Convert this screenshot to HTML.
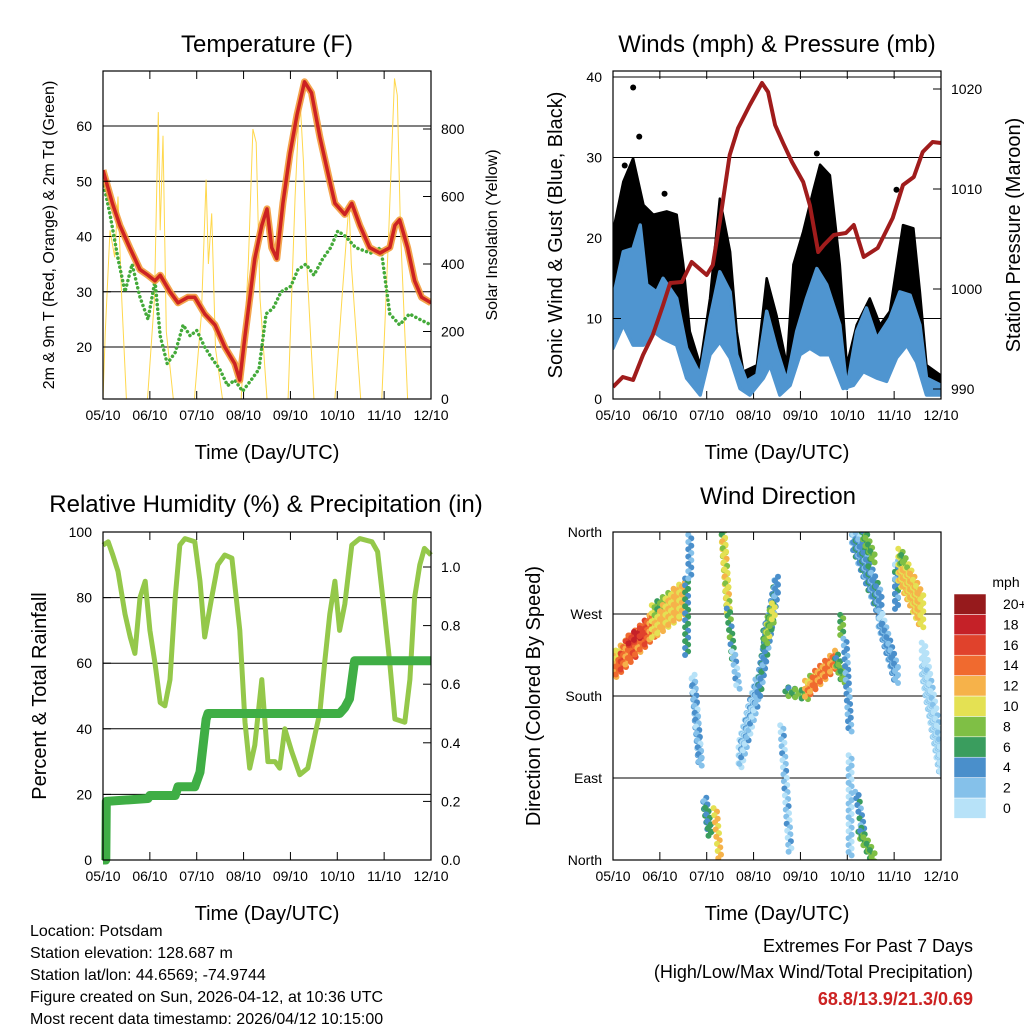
<!DOCTYPE html>
<html><head><meta charset="utf-8"><style>
html,body{margin:0;padding:0;background:#fff;}
svg{display:block;font-family:"Liberation Sans",sans-serif;}
</style></head><body>
<svg id="s" width="1024" height="1024" viewBox="0 0 1024 1024"></svg>
<script>
// ---- Temperature panel data (day index 0..7) ----
const tT=[0,0.2,0.36,0.57,0.79,0.96,1.11,1.22,1.43,1.6,1.81,1.96,2.17,2.39,2.6,2.81,2.92,3.03,3.24,3.39,3.5,3.6,3.71,3.84,3.99,4.14,4.3,4.45,4.63,4.84,4.95,5.16,5.31,5.48,5.69,5.91,6.12,6.23,6.33,6.5,6.65,6.8,7];
const tRed=[52,46,42,38,34,33,32,33,30,28,29,29,26,24,20,17,14,22,36,42,45,38,36,46,55,62,68,66,58,50,46,44,46,42,38,37,38,42,43,38,32,29,28];
const tdT=[0,0.15,0.32,0.47,0.62,0.79,0.96,1.11,1.22,1.37,1.54,1.71,1.86,2.0,2.17,2.32,2.49,2.66,2.81,2.98,3.16,3.33,3.48,3.63,3.8,4.01,4.16,4.33,4.5,4.69,4.86,5.01,5.18,5.39,5.71,5.93,6.12,6.33,6.54,6.76,7];
const tdVal=[50,44,36,30,35,29,25,32,22,17,19,24,22,23,20,18,16,13,14,12,14,16,26,27,30,31,34,35,33,36,38,41,40,38,37,38,26,24,26,25,24];
const solT=[0,0.05,0.15,0.25,0.32,0.4,0.5,0.95,1.1,1.18,1.22,1.28,1.35,1.5,1.95,2.1,2.2,2.25,2.32,2.4,2.55,2.95,3.1,3.2,3.27,3.35,3.5,3.95,4.1,4.2,4.28,4.35,4.5,4.95,5.1,5.25,5.3,5.4,5.5,5.95,6.1,6.22,6.28,6.35,6.5,7];
const solV=[0,200,500,420,600,300,0,0,300,850,500,780,200,0,0,250,650,400,550,150,0,0,400,800,760,300,0,0,600,900,700,400,0,0,300,580,400,200,0,0,500,950,900,500,0,0];
// ---- Wind panel data ----
const gT=[0,0.22,0.43,0.65,0.86,1.15,1.36,1.5,1.64,1.86,2.07,2.28,2.5,2.64,2.78,3.07,3.28,3.49,3.71,3.85,4.06,4.27,4.42,4.63,4.84,4.99,5.2,5.48,5.7,5.91,6.19,6.41,6.55,6.69,6.98,7];
const gMax=[20.8,27.0,29.9,24.1,22.9,23.3,22.9,16.7,8.4,4.2,12.5,24.9,18.3,8.4,3.4,4.2,15.0,10.4,4.2,16.7,20.8,25.8,29.1,27.8,16.7,4.2,9.2,12.5,9.2,10.9,21.6,21.2,13.3,4.2,3.0,2.6];
const sTopT=[0,0.22,0.43,0.58,0.72,0.93,1.07,1.36,1.57,1.86,2.07,2.28,2.5,2.64,2.85,3.07,3.28,3.49,3.71,3.92,4.13,4.35,4.56,4.84,4.99,5.2,5.41,5.63,5.91,6.12,6.34,6.55,6.69,7];
const sMax=[12.5,18.3,18.7,21.6,14.2,13.3,15.0,12.5,6.3,3.0,10.0,15.8,13.3,5.5,2.2,3.0,10.9,6.3,2.2,8.4,12.5,16.2,14.2,9.2,1.3,8.4,11.3,7.5,10.0,13.3,12.9,9.2,2.6,1.7];
const sBotT=[0,0.22,0.43,0.65,0.86,1.07,1.36,1.57,1.86,2.07,2.28,2.5,2.71,2.92,3.21,3.35,3.56,3.78,3.99,4.2,4.42,4.63,4.91,5.13,5.34,5.63,5.84,6.05,6.27,6.48,6.69,7];
const sMin=[6.3,9.2,6.7,6.7,8.4,7.5,6.7,2.6,0.5,5.5,7.1,5.1,1.3,0.5,2.6,4.2,0.5,1.7,5.5,6.3,5.5,5.5,1.3,1.7,3.4,2.6,2.2,5.1,6.7,4.6,0.5,0.5];
const outT=[0.43,0.56,0.25,4.35,4.5,6.05,1.1];
const outV=[38.7,32.6,29.0,30.5,28.0,26.0,25.5];
const pT=[0,0.21,0.43,0.64,0.85,1.07,1.22,1.47,1.68,2.0,2.13,2.28,2.49,2.67,2.92,3.18,3.31,3.46,3.63,3.82,4.06,4.2,4.38,4.5,4.71,4.97,5.14,5.35,5.65,5.97,6.19,6.42,6.61,6.82];
const pV=[990.2,991.2,990.9,993.4,995.4,998.4,1000.6,1000.7,1002.7,1001.4,1002.4,1006.7,1013.4,1016.1,1018.4,1020.6,1019.7,1016.4,1014.6,1012.7,1010.7,1008.4,1003.7,1004.4,1005.4,1005.6,1006.4,1003.2,1004.1,1007.1,1010.4,1011.2,1013.7,1014.7];
const pT2=[7];
const pV2=[1014.6];
// ---- RH panel data ----
const rhT=[0,0.11,0.21,0.32,0.47,0.58,0.68,0.79,0.9,1.0,1.11,1.22,1.32,1.43,1.54,1.64,1.75,1.96,2.07,2.17,2.32,2.45,2.6,2.75,2.92,3.03,3.13,3.24,3.39,3.52,3.67,3.77,3.88,4.03,4.2,4.37,4.52,4.63,4.73,4.84,4.95,5.05,5.16,5.31,5.48,5.74,5.86,6.01,6.12,6.23,6.44,6.55,6.65,6.76,6.86,7];
const rhV=[96,97,93,88,75,68,63,80,85,70,60,48,47,55,80,96,98,97,85,68,80,90,93,92,70,42,28,35,55,30,30,28,40,33,26,28,38,45,60,75,85,70,78,96,98,97,94,75,60,43,42,55,80,90,95,93];
const prT=[0,0.06,0.07,0.96,1.0,1.54,1.6,1.96,2.07,2.2,2.24,5.05,5.16,5.26,5.37,7];
const prV=[0,0,0.2,0.21,0.22,0.22,0.25,0.25,0.3,0.48,0.5,0.5,0.52,0.55,0.68,0.68];
// ---- Wind direction clusters (start/end day, start/end direction deg, half-width deg, speed mph) ----
const dT0=[0.04,0.3,0.86,1.57,1.64,1.71,2.35,2.46,2.57,1.96,2.18,2.71,3.10,3.24,3.6,3.71,4.13,4.77,4.88,4.95,5.06,5.2,5.27,5.13,5.34,5.7,6.05,6.12,6.62];
const dT1=[0.86,0.6,1.5,1.57,1.64,1.86,2.46,2.57,2.67,2.07,2.28,3.07,3.49,3.42,3.78,4.13,4.77,4.91,4.88,5.06,5.06,5.34,5.55,5.7,5.55,6.05,6.05,6.59,7.0];
const dA=[214,240,262,309,357,199,357,276,229,64,57,115,185,243,148,185,188,221,269,243,115,75,31,357,360,265,324,324,221];
const dB=[258,250,287,225,309,108,276,221,188,31,2,185,302,273,9,181,221,199,247,141,5,31,3,280,331,203,280,273,111];
const dW=[15,8,18,4,3,6,5,4,4,8,4,15,12,10,4,7,10,8,3,4,3,4,6,14,8,10,6,18,20];
const dS=[14,17,11,5,3,2.5,10,6,2,5,11,1.5,4,8,1.5,7,13,7,7,3,1,4,7,4,7,3,4,11,0.5];
const cbLabels=["0","2","4","6","8","10","12","14","16","18","20+"];
const cbColors=["#b7e2f8","#85c1ea","#4a8fcb","#3a9d5e","#7fbf45","#e4e153","#f6b24a","#f06a2f","#e0422c","#c52128","#961a1c"];

const S=document.getElementById('s');
const NS='http://www.w3.org/2000/svg';
function el(tag,attrs,parent){const e=document.createElementNS(NS,tag);for(const k in attrs)e.setAttribute(k,attrs[k]);(parent||S).appendChild(e);return e;}
function txt(x,y,s,size,anchor,extra,parent){const e=el('text',Object.assign({x:x,y:y,'font-size':size,'text-anchor':anchor||'middle',fill:'#000'},extra||{}),parent);e.textContent=s;return e;}
function lin(d0,d1,p0,p1){return v=>p0+(v-d0)*(p1-p0)/(d1-d0);}
function path(xs,ys,fx,fy){let d='';for(let i=0;i<xs.length;i++)d+=(i?'L':'M')+fx(xs[i]).toFixed(1)+' '+fy(ys[i]).toFixed(1);return d;}
function spd2col(v){let i=Math.min(10,Math.max(0,Math.round(v/2)));return cbColors[i];}
const xTicks=["05/10","06/10","07/10","08/10","09/10","10/10","11/10","12/10"];

const defs=el('defs',{});
function clip(id,x,y){const c=el('clipPath',{id:id},defs);el('rect',{x:x,y:y,width:328,height:328},c);}
clip('c1',103,71);clip('c2',613,71);clip('c3',103,532);clip('c4',613,532);

function panel(name,x0,y0,title,titleX,titleY){
  const g=el('g',{});
  
  
  const t=txt(titleX,titleY,title,24,'middle',{},g);
  
  
  const fx=lin(0,7,x0,x0+328);
  const xa=el('g',{},g);
  
  
  xTicks.forEach((s,i)=>{
    const x=fx(i);
    el('line',{x1:x,x2:x,y1:y0+328,y2:y0+320,stroke:'#000','stroke-width':1},xa);
    el('line',{x1:x,x2:x,y1:y0,y2:y0+8,stroke:'#000','stroke-width':1},xa);
    const l=txt(x,y0+349,s,14,'middle',{},xa);
    
    
  });
  const xt=txt(x0+164,y0+388,'Time (Day/UTC)',20,'middle',{},xa);
  
  
  return {g:g,fx:fx};
}
function box(g,x0,y0){el('rect',{x:x0,y:y0,width:328,height:328,fill:'none',stroke:'#000','stroke-width':1.2},g);}
function yTicks(g,vals,labels,fy,x0,side){
  vals.forEach((v,i)=>{
    const y=fy(v);
    if(side==='l'){el('line',{x1:x0,x2:x0+8,y1:y,y2:y,stroke:'#000'},g);
      const l=txt(x0-11,y+5,labels[i],14,'end',{},g);
      
      }
    else{el('line',{x1:x0-8,x2:x0,y1:y,y2:y,stroke:'#000'},g);
      const l=txt(x0+10,y+5,labels[i],14,'start',{},g);
      
      }
  });
}
function grid(g,vals,fy,x0){vals.forEach(v=>{el('line',{x1:x0,x2:x0+328,y1:fy(v),y2:fy(v),stroke:'#000','stroke-width':1},g);});}
function vtitle(g,x,y,s,size,name){const e=txt(x,y,s,size,'middle',{transform:'rotate(-90 '+x+' '+y+')'},g);
  
  }

// ===== Panel 1: Temperature =====
(function(){
  const P=panel('temperature-panel',103,71,'Temperature (F)',267,52);
  const g=P.g,fx=P.fx;
  const fy=lin(20,60,347,126), fy2=lin(0,800,399,129);
  grid(g,[20,30,40,50,60],fy,103);
  const cg=el('g',{'clip-path':'url(#c1)'},g);
  const sol=el('path',{d:path(solT,solV,fx,fy2),fill:'none',stroke:'#ffd84d','stroke-width':1},cg);
  
  
  const td=el('path',{d:path(tdT,tdVal,fx,fy),fill:'none',stroke:'#44aa3a','stroke-width':3.5,'stroke-dasharray':'0.1 4.5','stroke-linecap':'round'},cg);
  
  
  const org=el('path',{d:path(tT,tRed,fx,fy),fill:'none',stroke:'#f39a3a','stroke-width':7,'stroke-linejoin':'round',opacity:0.9},cg);
  
  
  const red=el('path',{d:path(tT,tRed,fx,fy),fill:'none',stroke:'#cc2222','stroke-width':3.5,'stroke-linejoin':'round'},cg);
  
  
  box(g,103,71);
  yTicks(g,[20,30,40,50,60],['20','30','40','50','60'],fy,103,'l');
  yTicks(g,[0,200,400,600,800],['0','200','400','600','800'],fy2,431,'r');
  vtitle(g,54,235,'2m & 9m T (Red, Orange) & 2m Td (Green)',16,'temperature-y-axis-title');
  vtitle(g,497,235,'Solar Insolation (Yellow)',16,'solar-y-axis-title');
})();

// ===== Panel 2: Winds =====
(function(){
  const P=panel('winds-panel',613,71,'Winds (mph) & Pressure (mb)',777,52);
  const g=P.g,fx=P.fx;
  const fy=lin(0,40,399,77), fy2=lin(990,1020,389,89);
  grid(g,[10,20,30,40],fy,613);
  const cg=el('g',{'clip-path':'url(#c2)'},g);
  let d='';
  for(let i=0;i<gT.length;i++)d+=(i?'L':'M')+fx(gT[i]).toFixed(1)+' '+fy(gMax[i]).toFixed(1);
  for(let i=sBotT.length-1;i>=0;i--)d+='L'+fx(sBotT[i]).toFixed(1)+' '+fy(sMin[i]).toFixed(1);
  const gb=el('path',{d:d+'Z',fill:'#000',stroke:'#000','stroke-width':2.5,'stroke-linejoin':'round'},cg);
  
  
  for(let i=0;i<outT.length;i++){
    const c=el('circle',{cx:fx(outT[i]),cy:fy(outV[i]),r:3,fill:'#000'},cg);
    
    
  }
  d='';
  for(let i=0;i<sTopT.length;i++)d+=(i?'L':'M')+fx(sTopT[i]).toFixed(1)+' '+fy(sMax[i]).toFixed(1);
  for(let i=sBotT.length-1;i>=0;i--)d+='L'+fx(sBotT[i]).toFixed(1)+' '+fy(sMin[i]).toFixed(1);
  const sb=el('path',{d:d+'Z',fill:'#4f95d0',stroke:'#4f95d0','stroke-width':3.5,'stroke-linejoin':'round'},cg);
  
  
  const pr=el('path',{d:path(pT.concat(pT2),pV.concat(pV2),fx,fy2),fill:'none',stroke:'#a01c1c','stroke-width':4,'stroke-linejoin':'round'},cg);
  
  
  box(g,613,71);
  yTicks(g,[0,10,20,30,40],['0','10','20','30','40'],fy,613,'l');
  yTicks(g,[990,1000,1010,1020],['990','1000','1010','1020'],fy2,941,'r');
  vtitle(g,562,235,'Sonic Wind & Gust (Blue, Black)',20,'wind-y-axis-title');
  vtitle(g,1020,235,'Station Pressure (Maroon)',20,'pressure-y-axis-title');
})();

// ===== Panel 3: RH & Precip =====
(function(){
  const P=panel('humidity-panel',103,532,'Relative Humidity (%) & Precipitation (in)',266,512);
  const g=P.g,fx=P.fx;
  const fy=lin(0,100,860,532), fy2=lin(0,1,860,567);
  grid(g,[20,40,60,80],fy,103);
  const rh=el('path',{d:path(rhT,rhV,fx,fy),fill:'none',stroke:'#94c84a','stroke-width':5,'stroke-linejoin':'round'},g);
  
  
  const pr=el('path',{d:path(prT,prV,fx,fy2),fill:'none',stroke:'#3fae45','stroke-width':9,'stroke-linejoin':'round'},g);
  
  
  box(g,103,532);
  yTicks(g,[0,20,40,60,80,100],['0','20','40','60','80','100'],fy,103,'l');
  yTicks(g,[0,0.2,0.4,0.6,0.8,1.0],['0.0','0.2','0.4','0.6','0.8','1.0'],fy2,431,'r');
  vtitle(g,46,696,'Percent & Total Rainfall',20,'humidity-y-axis-title');
})();

// ===== Panel 4: Wind direction =====
(function(){
  const P=panel('wind-direction-panel',613,532,'Wind Direction',778,504);
  const g=P.g,fx=P.fx;
  const fy=lin(0,360,860,532);
  grid(g,[90,180,270],fy,613);
  const dg=el('g',{'clip-path':'url(#c4)'},g);
  
  
  const pxPerDeg=328/360;
  for(let i=0;i<dT0.length;i++){
    const x1=fx(dT0[i]),x2=fx(dT1[i]),y1=fy(dA[i]),y2=fy(dB[i]);
    const len=Math.hypot(x2-x1,y2-y1);const n=Math.max(2,Math.round(len/3.5));
    const hw=dW[i]*pxPerDeg;const m=Math.max(0,Math.floor(hw/4));
    for(let k=0;k<=n;k++){
      const f=k/n;
      for(let j=-m;j<=m;j++){
        const cx=x1+(x2-x1)*f+(((k+j)%2)?1.5:-1.5);
        const cy=y1+(y2-y1)*f+j*4;
        const sv=dS[i]+(((k*3+j*5)%5)-2)*0.8;
        el('circle',{cx:cx.toFixed(1),cy:cy.toFixed(1),r:3,fill:spd2col(sv)},dg);
      }
    }
  }
  box(g,613,532);
  yTicks(g,[0,90,180,270,360],['North','East','South','West','North'],fy,613,'l');
  vtitle(g,540,696,'Direction (Colored By Speed)',20,'direction-y-axis-title');
  const cb=el('g',{},g);
  
  
  txt(1006,587,'mph',14,'middle',{},cb);
  for(let i=0;i<11;i++){
    const y=798-i*20.4;
    el('rect',{x:954,y:y,width:32,height:20.4,fill:cbColors[i],stroke:'#fff','stroke-width':0.5},cb);
    const l=txt(1003,y+15,cbLabels[i],14,'start',{},cb);
    
    
  }
})();

// ===== Footer text =====
const info=["Location: Potsdam","Station elevation: 128.687 m","Station lat/lon: 44.6569; -74.9744","Figure created on Sun, 2026-04-12, at 10:36 UTC","Most recent data timestamp: 2026/04/12 10:15:00"];
info.forEach((s,i)=>{const e=txt(30,936+i*22,s,16,'start');
  
  });
const e1=txt(973,952,'Extremes For Past 7 Days',18,'end');


const e2=txt(973,978,'(High/Low/Max Wind/Total Precipitation)',18,'end');


const e3=txt(973,1005,'68.8/13.9/21.3/0.69',18,'end',{fill:'#cc2222','font-weight':'bold'});


</script>
</body></html>
